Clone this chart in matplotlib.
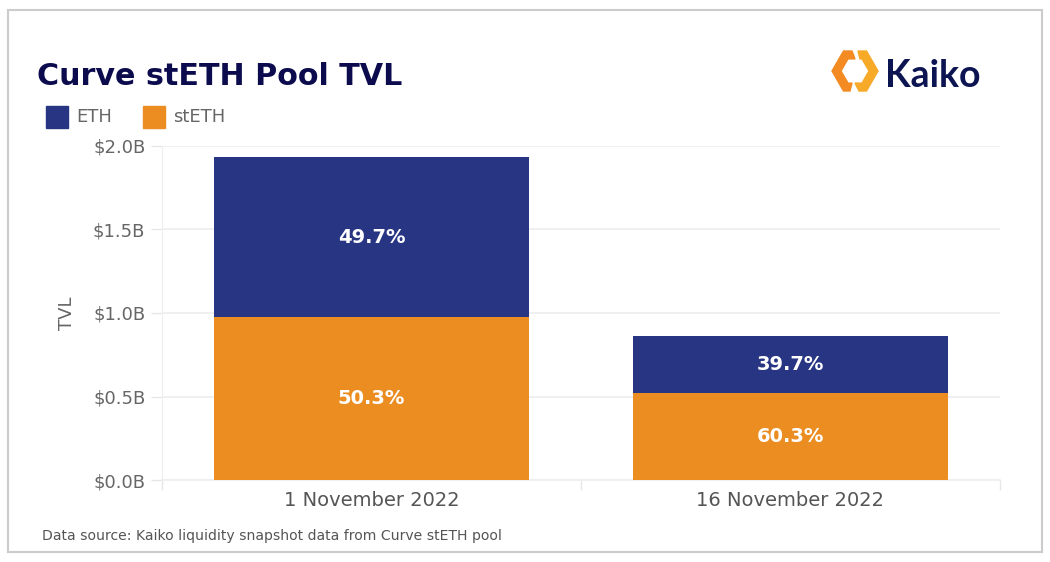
import matplotlib.pyplot as plt
from matplotlib.patches import Rectangle, Polygon
import numpy as np

dates = ["1 November 2022", "16 November 2022"]
steth_tvl = [0.974, 0.52]   # $B
eth_tvl = [0.960, 0.345]    # $B
eth_pct = ["49.7%", "39.7%"]
steth_pct = ["50.3%", "60.3%"]
yticks = [0.0, 0.5, 1.0, 1.5, 2.0]

NAVY = "#283583"
ORANGE = "#EB8D21"
TITLE = "#0B0B4D"
GRAY = "#666666"

W, H = 1050, 562
fig = plt.figure(figsize=(W / 100, H / 100), dpi=100)


def fx(px):
    return px / W


def fy(py):
    return 1 - py / H


# outer frame
fig.patches.append(Rectangle((fx(8), fy(552)), fx(1042) - fx(8), fy(10) - fy(552),
                             transform=fig.transFigure, fill=False,
                             edgecolor="#cccccc", linewidth=1.5))

ax = fig.add_axes([fx(162), fy(480), fx(1000) - fx(162), fy(146) - fy(480)])
x = np.arange(len(dates))
ax.bar(x, steth_tvl, width=0.75, color=ORANGE, zorder=3)
ax.bar(x, eth_tvl, width=0.75, bottom=steth_tvl, color=NAVY, zorder=3)

for i in range(len(dates)):
    ax.text(x[i], steth_tvl[i] / 2, steth_pct[i], ha="center", va="center",
            color="white", fontsize=14, fontweight="bold", zorder=4)
    ax.text(x[i], steth_tvl[i] + eth_tvl[i] / 2, eth_pct[i], ha="center", va="center",
            color="white", fontsize=14, fontweight="bold", zorder=4)

ax.set_xlim(-0.5, 1.5)
ax.set_ylim(0, 2.0)
ax.set_yticks(yticks)
ax.set_yticklabels([f"${v:.1f}B" for v in yticks])
ax.set_xticks(x)
ax.set_xticklabels(dates)
ax.set_xticks([-0.5, 0.5, 1.5], minor=True)
ax.tick_params(axis="x", which="major", length=0, pad=8, labelsize=14, labelcolor="#555555")
ax.tick_params(axis="x", which="minor", length=7, color="#e6e6e6", width=1)
ax.tick_params(axis="y", length=8, color="#e6e6e6", width=1, pad=4,
               labelsize=13, labelcolor=GRAY)
ax.grid(axis="y", color="#eeeeee", linewidth=1.2, zorder=0)
for s in ["top", "right"]:
    ax.spines[s].set_visible(False)
ax.spines["left"].set_color("#eeeeee")
ax.spines["bottom"].set_color("#eeeeee")
ax.spines["bottom"].set_linewidth(1.2)
ax.set_ylabel("TVL", fontsize=13, color=GRAY, labelpad=12)

# title & legend
fig.text(fx(37), fy(85), "Curve stETH Pool TVL", fontsize=21.7, fontweight="bold",
         color=TITLE, ha="left", va="baseline")
for px, lab, col in [(46, "ETH", NAVY), (143, "stETH", ORANGE)]:
    fig.patches.append(Rectangle((fx(px), fy(128)), fx(22), fy(106) - fy(128),
                                 transform=fig.transFigure, color=col))
    fig.text(fx(px + 30), fy(117), lab, fontsize=13, color=GRAY, ha="left", va="center")

fig.text(fx(42), fy(536), "Data source: Kaiko liquidity snapshot data from Curve stETH pool",
         fontsize=10.1, color="#555555", ha="left", va="center")

# Kaiko logo: hexagon ring split in two pieces
left_piece = [(852, 51), (843.5, 51), (832, 71), (843.5, 91), (850, 91),
              (852, 83.1), (848, 83.1), (841, 71), (848, 58.9), (855, 58.9)]
right_piece = [(858, 51), (866.5, 51), (878, 71), (866.5, 91), (859, 91),
               (855, 83.1), (862, 83.1), (869, 71), (862, 58.9), (860, 58.9)]
for pts, col in [(left_piece, "#F38B22"), (right_piece, "#F7A928")]:
    fig.patches.append(Polygon([(fx(a), fy(b)) for a, b in pts], closed=True,
                               transform=fig.transFigure, color=col))
fig.text(fx(885), fy(87), "Kaiko", fontsize=27, fontweight="bold", family="Lato",
         color="#0D1452", ha="left", va="baseline")

fig.savefig("out.png", dpi=100, facecolor="white")
